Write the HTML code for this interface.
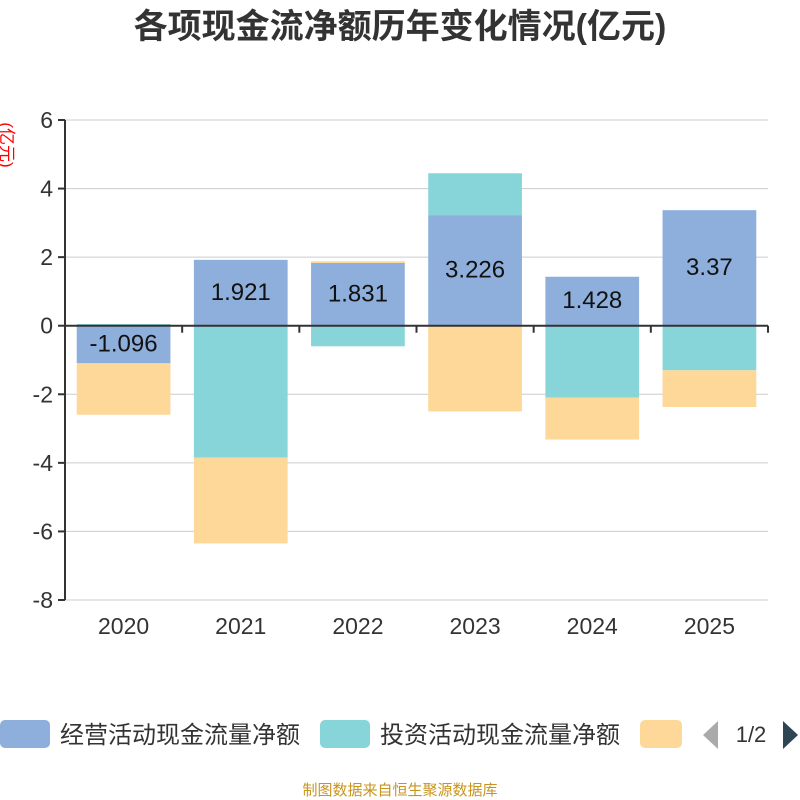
<!DOCTYPE html>
<html><head><meta charset="utf-8"><style>
body{margin:0;background:#fff;}
svg{display:block;font-family:"Liberation Sans","Noto Sans CJK SC",sans-serif;}
</style></head><body>
<svg id="chart" width="800" height="800">
<text x="400" y="38" text-anchor="middle" font-size="34" font-weight="bold" fill="#333">各项现金流净额历年变化情况(亿元)</text>
<text transform="translate(1,145) rotate(90)" text-anchor="middle" font-size="17" fill="#f00">(亿元)</text>
<g id="grid"></g><g id="bars"></g><g id="axes"></g><g id="labels"></g>
<g>
<rect x="0" y="720" width="50" height="28" rx="5" fill="#8eaedb"/>
<text x="60" y="743" font-size="24" fill="#333">经营活动现金流量净额</text>
<rect x="320" y="720" width="50" height="28" rx="5" fill="#88d5d9"/>
<text x="380" y="743" font-size="24" fill="#333">投资活动现金流量净额</text>
<rect x="640" y="720" width="42" height="28" rx="5" fill="#fed899"/>
<polygon points="718,721 718,749 703,735" fill="#aaa"/>
<text x="751" y="742" text-anchor="middle" font-size="22" fill="#333">1/2</text>
<polygon points="783,721 783,749 798,735" fill="#2f4554"/>
</g>
<text x="400" y="795" text-anchor="middle" font-size="15" fill="#c8941e">制图数据来自恒生聚源数据库</text>
</svg>
<script>
const categories=["2020","2021","2022","2023","2024","2025"];
const operating=[-1.096,1.921,1.831,3.226,1.428,3.37];
const investing=[0.05,-3.85,-0.6,1.22,-2.1,-1.3];
const financing=[-1.5,-2.5,0.05,-2.5,-1.22,-1.07];
const yTicks=[-8,-6,-4,-2,0,2,4,6];
const NS="http://www.w3.org/2000/svg";
const L=65,R=768,T=120,B=600,ymin=-8,ymax=6;
const y=v=>T+(ymax-v)/(ymax-ymin)*(B-T);
const band=(R-L)/categories.length;
const xc=i=>L+band*(i+0.5);
function mk(tag,attrs,parent){const e=document.createElementNS(NS,tag);for(const k in attrs)e.setAttribute(k,attrs[k]);document.getElementById(parent).appendChild(e);return e;}
yTicks.forEach(t=>{
 const g=mk('line',{x1:L,x2:R,y1:y(t),y2:y(t),stroke:'#ccc','stroke-width':1},'grid');
 
 
 const tk=mk('line',{x1:L-7,x2:L,y1:y(t),y2:y(t),stroke:'#333','stroke-width':2},'axes');
 
 
 const tx=mk('text',{x:L-12,y:y(t)+8,'text-anchor':'end','font-size':23,fill:'#333'},'axes');
 tx.textContent=t;
 
 
});
const yl=mk('line',{x1:L,x2:L,y1:T,y2:B,stroke:'#333','stroke-width':2},'axes');


const xl=mk('line',{x1:L,x2:R,y1:y(0),y2:y(0),stroke:'#333','stroke-width':2},'axes');


for(let i=0;i<=categories.length;i++){
 const tk=mk('line',{x1:L+band*i,x2:L+band*i,y1:y(0),y2:y(0)+7,stroke:'#333','stroke-width':2},'axes');
 
 
}
categories.forEach((c,i)=>{
 const tx=mk('text',{x:xc(i),y:B+34,'text-anchor':'middle','font-size':23,fill:'#333'},'axes');
 tx.textContent=c;
 
 
});
const series=[[operating,'#8eaedb','operating'],[investing,'#88d5d9','investing'],[financing,'#fed899','financing']];
const bw=band*0.8;
categories.forEach((c,i)=>{
 let pos=0,neg=0;
 series.forEach(([arr,col,nm])=>{
  const v=arr[i];let a,b;
  if(v>=0){a=pos;b=pos+v;pos=b;}else{a=neg;b=neg+v;neg=b;}
  const r=mk('rect',{x:xc(i)-bw/2,width:bw,y:Math.min(y(a),y(b)),height:Math.abs(y(a)-y(b)),fill:col},'bars');
  
  
  if(nm==='operating'){
   const tx=mk('text',{x:xc(i),y:(y(a)+y(b))/2+7,'text-anchor':'middle','font-size':24,fill:'#111'},'labels');
   tx.textContent=v;
   
   
  }
 });
});
</script>
</body></html>
